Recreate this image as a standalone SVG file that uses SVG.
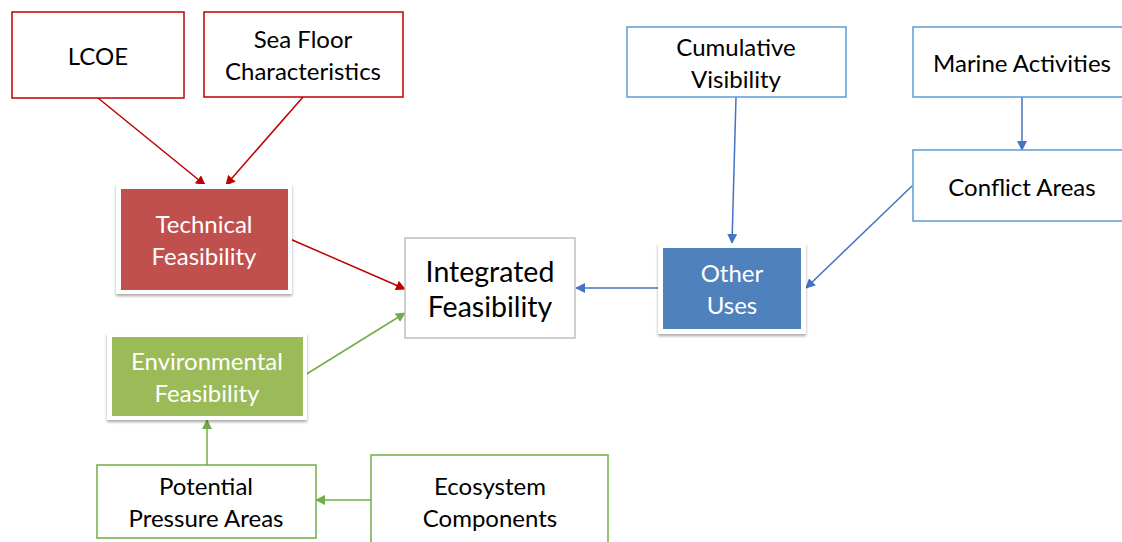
<svg xmlns="http://www.w3.org/2000/svg" width="1122" height="542" viewBox="0 0 1122 542">
  <defs>
    <filter id="shadow" x="-10%" y="-10%" width="120%" height="125%">
      <feDropShadow dx="0" dy="2" stdDeviation="1.6" flood-color="#000" flood-opacity="0.35"/>
    </filter>
    <marker id="arR" markerWidth="10" markerHeight="10" refX="9" refY="5" orient="auto" markerUnits="userSpaceOnUse">
      <path d="M0,0 L10,5 L0,10 z" fill="#C00000"/>
    </marker>
    <marker id="arB" markerWidth="10" markerHeight="10" refX="9" refY="5" orient="auto" markerUnits="userSpaceOnUse">
      <path d="M0,0 L10,5 L0,10 z" fill="#4472C4"/>
    </marker>
    <marker id="arG" markerWidth="10" markerHeight="10" refX="9" refY="5" orient="auto" markerUnits="userSpaceOnUse">
      <path d="M0,0 L10,5 L0,10 z" fill="#70AD47"/>
    </marker>
  </defs>
  <style>
    text { font-family: Lato, "Open Sans", "Liberation Sans", sans-serif; font-size: 24px; text-anchor: middle; dominant-baseline: central; fill: #000; }
    .big { font-size: 28.5px; }
    .light { fill: #fff; }
    .red { fill: #fff; stroke: #C00000; stroke-width: 1.5; }
    .blue { fill: #fff; stroke: #5B9BD5; stroke-width: 1.5; }
    .green { fill: #fff; stroke: #70AD47; stroke-width: 1.5; }
    .grey { fill: #fff; stroke: #BFBFBF; stroke-width: 1.5; }
    .frame { fill: #fff; filter: url(#shadow); }
    .lr { stroke: #C00000; stroke-width: 1.5; fill: none; marker-end: url(#arR); }
    .lb { stroke: #4472C4; stroke-width: 1.5; fill: none; marker-end: url(#arB); }
    .lg { stroke: #70AD47; stroke-width: 1.5; fill: none; marker-end: url(#arG); }
  </style>
  <rect width="1122" height="542" fill="#fff"/>

  <!-- connectors -->
  <g id="connectors">
    <line class="lr" x1="98" y1="98" x2="205" y2="185"/>
    <line class="lr" x1="303" y1="97" x2="226" y2="185"/>
    <line class="lr" x1="290" y1="239" x2="405" y2="289"/>
    <line class="lg" x1="305" y1="375" x2="405" y2="313"/>
    <line class="lg" x1="207" y1="465" x2="207" y2="420"/>
    <line class="lg" x1="371" y1="500" x2="316" y2="500"/>
    <line class="lb" x1="660" y1="288" x2="576" y2="288"/>
    <line class="lb" x1="736" y1="97" x2="732" y2="243"/>
    <line class="lb" x1="1022" y1="97" x2="1022" y2="150"/>
    <line class="lb" x1="912" y1="186" x2="806" y2="288"/>
  </g>

  <!-- technical side -->
  <g id="lcoe">
    <rect class="red" x="12" y="12" width="172" height="86"/>
    <text x="98" y="55">LCOE</text>
  </g>
  <g id="sea-floor">
    <rect class="red" x="204" y="12" width="199" height="85"/>
    <text x="303" y="38">Sea Floor</text>
    <text x="303" y="70">Characteristics</text>
  </g>
  <g id="technical">
    <rect class="frame" x="116" y="184" width="176" height="110"/>
    <rect x="121" y="189" width="167" height="101" fill="#C0504D"/>
    <text class="light" x="204" y="223">Technical</text>
    <text class="light" x="204" y="255">Feasibility</text>
  </g>

  <!-- centre -->
  <g id="integrated">
    <rect class="grey" x="405" y="238" width="170" height="100"/>
    <text class="big" x="490" y="271">Integrated</text>
    <text class="big" x="490" y="306">Feasibility</text>
  </g>

  <!-- other uses side -->
  <g id="cumulative">
    <rect class="blue" x="627" y="27" width="219" height="70"/>
    <text x="736" y="46">Cumulative</text>
    <text x="736" y="78">Visibility</text>
  </g>
  <g id="marine">
    <rect class="blue" x="913" y="27" width="220" height="70"/>
    <text x="1022" y="62">Marine Activities</text>
  </g>
  <g id="conflict">
    <rect class="blue" x="913" y="150" width="220" height="71"/>
    <text x="1022" y="186">Conflict Areas</text>
  </g>
  <g id="other-uses">
    <rect class="frame" x="658" y="243" width="148" height="91"/>
    <rect x="663" y="248" width="138" height="81" fill="#4F81BD"/>
    <text class="light" x="732" y="272">Other</text>
    <text class="light" x="732" y="304">Uses</text>
  </g>

  <!-- environmental side -->
  <g id="environmental">
    <rect class="frame" x="107" y="333" width="200" height="87"/>
    <rect x="112" y="337" width="191" height="79" fill="#9BBB59"/>
    <text class="light" x="207" y="360">Environmental</text>
    <text class="light" x="207" y="392">Feasibility</text>
  </g>
  <g id="pressure">
    <rect class="green" x="97" y="465" width="219" height="73"/>
    <text x="206" y="485">Potential</text>
    <text x="206" y="517">Pressure Areas</text>
  </g>
  <g id="ecosystem">
    <rect class="green" x="371" y="455" width="237" height="100"/>
    <text x="490" y="485">Ecosystem</text>
    <text x="490" y="517">Components</text>
  </g>
</svg>
